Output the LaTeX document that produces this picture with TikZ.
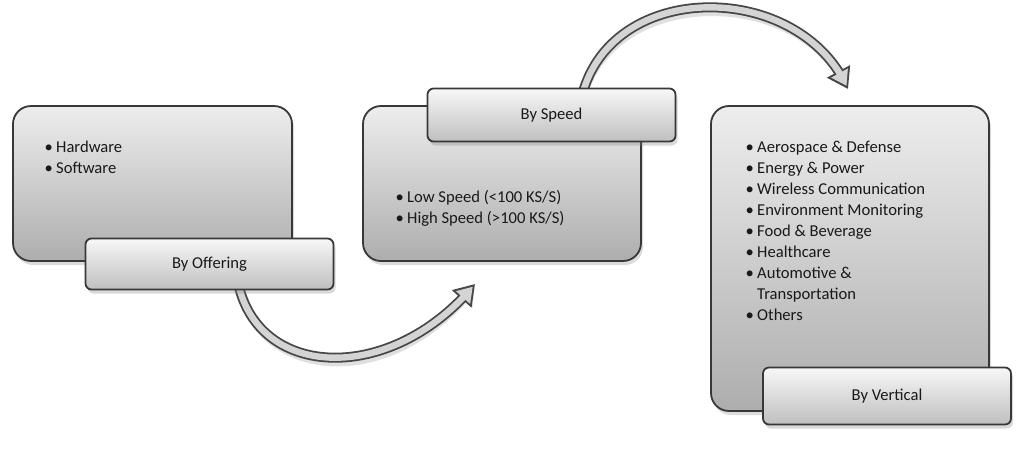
\documentclass[tikz,border=0pt]{standalone}
\usepackage{fontspec}
\setmainfont{Carlito}
\usetikzlibrary{arrows.meta,shadows,bending,backgrounds}
\newcommand\itm{\makebox[11.5pt][l]{•}}
\begin{document}
\begin{tikzpicture}[x=1pt,y=-1pt,
  bigbox/.style={draw=black!78, line width=1.8pt, rounded corners=18pt,
    top color=black!7, bottom color=black!32, inner sep=0pt,
    drop shadow={opacity=0.28, shadow xshift=2pt, shadow yshift=-4pt}},
  tagbox/.style={draw=black!78, line width=1.8pt, rounded corners=6pt,
    top color=black!3, bottom color=black!25, inner sep=0pt,
    minimum width=248pt, font=\fontsize{16.6}{19}\selectfont, text=black!90,
    drop shadow={opacity=0.3, shadow xshift=2pt, shadow yshift=-4pt}},
  item/.style={inner sep=0pt, anchor=base west, font=\fontsize{16.6}{19}\selectfont, text=black!90},
  flowout/.style={line width=10pt, draw=black!72, -{Triangle[length=20pt,width=25pt]}},
  flowin/.style={line width=6.4pt, draw=black!17, shorten >=3.5pt, -{Triangle[length=14.6pt,width=18pt]}},
  flowshadow/.style={line width=10pt, draw=black, opacity=0.12, -{Triangle[length=20pt,width=25pt]}},
]
\useasboundingbox (0,0) rectangle (1024,448);

% main boxes
\node[bigbox, minimum width=279pt, minimum height=155pt] (box1) at (152.5,183.5) {};
\node[bigbox, minimum width=278pt, minimum height=155pt] (box2) at (502,183.5) {};
\node[bigbox, minimum width=278pt, minimum height=305pt] (box3) at (850,258.5) {};

% tag boxes
\node[tagbox, minimum height=51pt] (lab1) at (209.5,264) {By Offering};
\node[tagbox, minimum height=53pt] (lab2) at (551.5,115) {By Speed};
\node[tagbox, minimum height=57pt] (lab3) at (887,396) {By Vertical};

% lists
\node[item] (a1) at (44.5,152) {\itm Hardware};
\node[item] (a2) at (44.5,173.5) {\itm Software};
\node[item] (b1) at (395.5,202) {\itm Low Speed (<100 KS/S)};
\node[item] (b2) at (395.5,223.5) {\itm High Speed (>100 KS/S)};
\foreach \t [count=\i] in {{\itm Aerospace \& Defense},{\itm Energy \& Power},
  {\itm Wireless Communication},{\itm Environment Monitoring},{\itm Food \& Beverage},
  {\itm Healthcare},{\itm Automotive \&},{\hspace*{11.5pt}Transportation},{\itm Others}}
  \node[item] (c\i) at (745.5,{152+21.1*(\i-1)}) {\t};

% arrow ends
\coordinate (t1) at (475,284);
\coordinate (t2) at (848,89);

\begin{scope}[on background layer]
  \path ([xshift=28.5pt,yshift=8pt]lab1.south) coordinate (s1);
  \path ([xshift=30.5pt,yshift=-8pt]lab2.north) coordinate (s2);
  \begin{scope}[shift={(3,5)}]
    \draw[flowshadow] (s1) .. controls (258,380) and (392,385) .. (t1);
    \draw[flowshadow] (s2) .. controls (612,-22) and (800,-20) .. (t2);
  \end{scope}
  \draw[flowout] (s1) .. controls (258,380) and (392,385) .. (t1);
  \draw[flowin]  (s1) .. controls (258,380) and (392,385) .. (t1);
  \draw[flowout] (s2) .. controls (612,-22) and (800,-20) .. (t2);
  \draw[flowin]  (s2) .. controls (612,-22) and (800,-20) .. (t2);
\end{scope}
\end{tikzpicture}
\end{document}
